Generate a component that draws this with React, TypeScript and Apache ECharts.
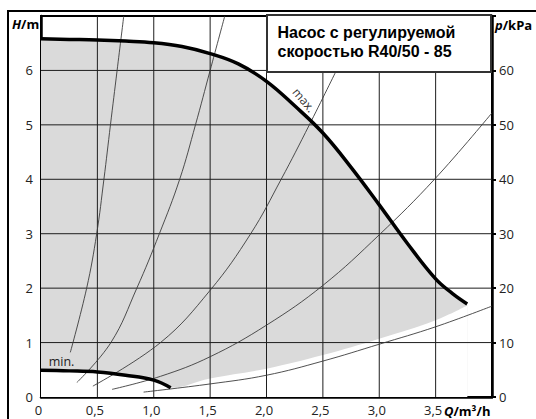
import React, { useEffect, useRef } from "react";
import * as echarts from "echarts";

// Q (m³/h), H (m)
const maxCurve: number[][] = [
  [0, 6.58], [0.25, 6.57], [0.5, 6.56], [0.75, 6.54], [1.0, 6.51], [1.25, 6.44], [1.5, 6.31],
  [1.75, 6.12], [2.0, 5.8], [2.25, 5.35], [2.5, 4.85], [2.75, 4.22], [3.0, 3.53],
  [3.25, 2.82], [3.5, 2.17], [3.65, 1.9], [3.78, 1.71],
];
const minCurve: number[][] = [
  [0, 0.49], [0.25, 0.48], [0.5, 0.46], [0.75, 0.4], [1.0, 0.31], [1.15, 0.17],
];
const lowerBound: number[][] = [
  [1.15, 0.17], [1.5, 0.34], [2.0, 0.52], [2.5, 0.77], [3.0, 1.07], [3.5, 1.41], [3.78, 1.68],
];
const sys1: number[][] = [
  [0.26, 0.82], [0.405, 2.0], [0.494, 3.0], [0.558, 4.0], [0.616, 5.0], [0.675, 6.0], [0.734, 7.0],
];
const sys2: number[][] = [
  [0.32, 0.27], [0.62, 1.0], [0.85, 2.0], [1.05, 3.0], [1.23, 4.0], [1.37, 5.0], [1.5, 6.0], [1.63, 7.0],
];
const sys3: number[][] = [
  [0.46, 0.2], [1.06, 1.0], [1.5, 1.96], [1.86, 3.0], [2.13, 4.0], [2.38, 5.0], [2.62, 6.0],
];
const sys4: number[][] = [
  [0.63, 0.14], [1.06, 0.38], [1.5, 0.74], [2.0, 1.32], [2.5, 2.05], [3.0, 2.98], [3.49, 4.0], [4.0, 5.22],
];
const sys5: number[][] = [
  [0.91, 0.09], [1.5, 0.24], [2.0, 0.4], [2.5, 0.66], [3.0, 0.97], [3.5, 1.29], [4.0, 1.67],
];

const xMin = 0, xMax = 4, xStep = 0.5;
const hMin = 0, hMax = 7, hStep = 1;
const pMin = 0, pMax = 70, pStep = 10;
const gridQ = [0.5, 1.0, 1.5, 2.0, 2.5, 3.0, 3.5];
const gridH = [1, 2, 3, 4, 5, 6];

const titleLines = ["Насос с регулируемой", "скоростью R40/50 - 85"];

const FONT = "'Open Sans', 'DejaVu Sans', sans-serif";

export default function App() {
  const ref = useRef<HTMLDivElement>(null);
  useEffect(() => {
    if (!ref.current) return;
    const chart = echarts.init(ref.current, undefined, { renderer: "svg" });
    const xFmt = (v: number) => (v >= xMax ? "" : v === 0 ? "0" : v.toFixed(1).replace(".", ","));
    const thin = { color: "#3c3c3c", width: 0.9 };
    const sysSeries = [sys1, sys2, sys3, sys4, sys5].map((d) => ({
      type: "line",
      data: d,
      smooth: 0.4,
      symbol: "none",
      lineStyle: thin,
      z: 3,
      silent: true,
    }));
    const gridStyle = { color: "#1e1e1e", width: 1 };
    const gridSeries = [
      ...gridQ.map((v) => ({
        type: "line", data: [[v, hMin], [v, hMax]], symbol: "none", silent: true, z: 2, lineStyle: gridStyle,
      })),
      ...gridH.map((v) => ({
        type: "line", data: [[xMin, v], [xMax, v]], symbol: "none", silent: true, z: 2, lineStyle: gridStyle,
      })),
    ];
    const richLabel = {
      i: { fontStyle: "italic", fontWeight: "bold", fontSize: 13, fontFamily: FONT, fill: "#000" },
      n: { fontWeight: "bold", fontSize: 13, fontFamily: FONT, fill: "#000" },
    };
    const option: any = {
      animation: false,
      backgroundColor: "#fff",
      grid: { left: 41, right: 44, top: 16, bottom: 22, show: true, borderColor: "#000", borderWidth: 2, backgroundColor: "transparent" },
      xAxis: {
        type: "value", min: xMin, max: xMax, interval: xStep,
        axisLine: { show: true, lineStyle: { color: "#000", width: 2.5 } },
        axisTick: { show: false },
        splitLine: { show: false },
        axisLabel: { formatter: xFmt, color: "#222", fontSize: 13, fontFamily: FONT, margin: 6, padding: [0, 5, 0, 0] },
      },
      yAxis: [
        {
          type: "value", min: hMin, max: hMax, interval: hStep, position: "left",
          axisLine: { show: true, lineStyle: { color: "#000", width: 2.5 } },
          axisTick: { show: false },
          splitLine: { show: false },
          axisLabel: { formatter: (v: number) => (v >= hMax ? "" : String(v)), color: "#222", fontSize: 13, fontFamily: FONT, margin: 8 },
        },
        {
          type: "value", min: pMin, max: pMax, interval: pStep, position: "right",
          axisLine: { show: true, lineStyle: { color: "#000", width: 2.5 } },
          axisTick: { show: true, length: 4, lineStyle: { color: "#000", width: 2 } },
          splitLine: { show: false },
          axisLabel: { formatter: (v: number) => (v >= pMax ? "" : String(v)), color: "#222", fontSize: 13, fontFamily: FONT, margin: 7 },
        },
      ],
      series: [
        {
          type: "line", data: maxCurve, smooth: 0.4, symbol: "none", silent: true, z: 1,
          lineStyle: { width: 0 }, areaStyle: { color: "#dadada", opacity: 1 },
        },
        {
          type: "line", data: [...minCurve, ...lowerBound.slice(1)], smooth: 0.4, symbol: "none", silent: true, z: 1,
          lineStyle: { width: 0 }, areaStyle: { color: "#ffffff", opacity: 1 },
        },
        ...gridSeries,
        ...sysSeries,
        {
          type: "line", data: minCurve, smooth: 0.4, symbol: "none", silent: true, z: 4,
          lineStyle: { color: "#000", width: 3.5 },
        },
        {
          type: "line", data: maxCurve, smooth: 0.4, symbol: "none", silent: true, z: 4,
          lineStyle: { color: "#000", width: 3.5 },
        },
      ],
      graphic: [
        { type: "line", z: 20, shape: { x1: 8, y1: 11, x2: 536, y2: 11 }, style: { stroke: "#000", lineWidth: 2 } },
        { type: "line", z: 20, shape: { x1: 8, y1: 10, x2: 8, y2: 419 }, style: { stroke: "#000", lineWidth: 2 } },
        {
          type: "rect", z: 20, shape: { x: 267, y: 15, width: 224, height: 57 },
          style: { fill: "#fff", stroke: "#333", lineWidth: 2 },
        },
        {
          type: "text", z: 21, x: 277.5, y: 32.7,
          style: { text: titleLines[0], fill: "#000", font: "bold 16px 'Liberation Sans', Arial, sans-serif", textVerticalAlign: "middle" },
        },
        {
          type: "text", z: 21, x: 277.5, y: 51.1,
          style: { text: titleLines[1], fill: "#000", font: "bold 16px 'Liberation Sans', Arial, sans-serif", textVerticalAlign: "middle" },
        },
        {
          type: "text", z: 21, x: 12, y: 24,
          style: { text: "{i|H}{n|/m}", textVerticalAlign: "middle", fill: "#000", rich: richLabel },
        },
        {
          type: "text", z: 21, x: 495, y: 25,
          style: { text: "{i|p}{n|/kPa}", textVerticalAlign: "middle", fill: "#000", rich: richLabel },
        },
        {
          type: "text", z: 21, x: 444, y: 411,
          style: { text: "{i|Q}{n|/m³/h}", textVerticalAlign: "middle", fill: "#000", rich: richLabel },
        },
        {
          type: "text", z: 21, x: 304, y: 100, rotation: -0.87,
          style: { text: "max.", fill: "#333", font: `12px ${FONT}`, textAlign: "center", textVerticalAlign: "middle" },
        },
        {
          type: "text", z: 21, x: 61.5, y: 361,
          style: { text: "min.", fill: "#222", font: `12.5px ${FONT}`, textAlign: "center", textVerticalAlign: "middle" },
        },
      ],
    };
    chart.setOption(option);
    return () => chart.dispose();
  }, []);
  return (
    <div
      ref={ref}
      style={{ position: "absolute", left: 0, top: 0, width: 536, height: 419, background: "#fff" }}
    />
  );
}
